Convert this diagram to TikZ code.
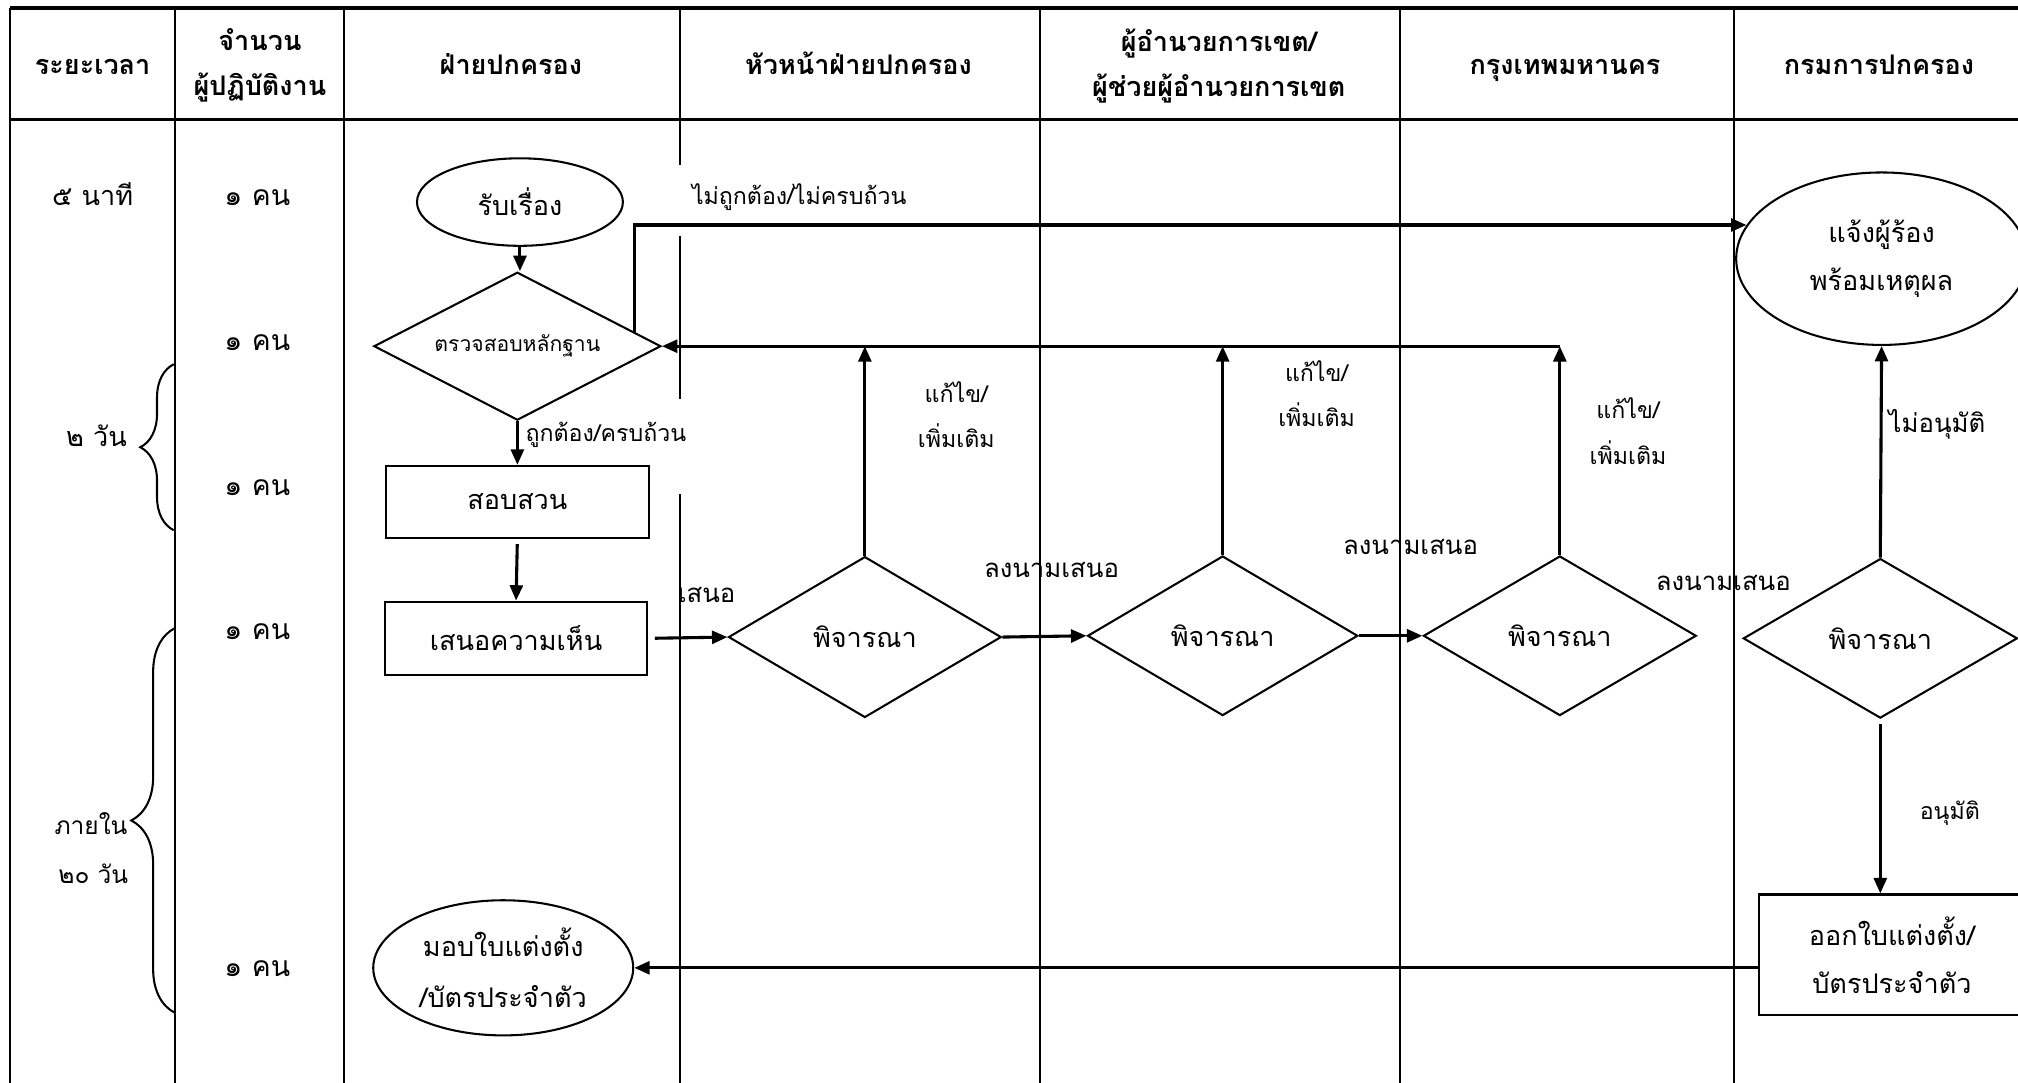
\documentclass[tikz,border=0pt]{standalone}
\usepackage{fontspec}
\newfontfamily\thai[Script=Thai]{Loma}
\usetikzlibrary{shapes.geometric,arrows.meta,decorations.pathreplacing,calc}
\tikzset{
  tline/.style={line width=0.8pt},
  shp/.style={draw, line width=0.8pt, inner sep=0pt, align=center, font=\thai\fontsize{10.5}{18.5}\selectfont},
  ell/.style={shp, ellipse},
  dia/.style={shp, diamond, aspect=2},
  box/.style={shp, rectangle},
  arr/.style={line width=1.2pt, -{Triangle[length=6pt,width=5pt]}},
  lbl/.style={font=\thai\fontsize{9}{17.5}\selectfont, inner sep=0pt, align=center},
  lblb/.style={font=\thai\fontsize{10}{17.5}\selectfont, inner sep=0pt, align=center},
  cnt/.style={font=\thai\fontsize{11}{17.5}\selectfont, inner sep=0pt, text height=8pt, text depth=3pt},
  tim/.style={font=\thai\fontsize{10.5}{17.5}\selectfont, inner sep=0pt, text height=8pt, text depth=3pt},
  hdr/.style={font=\thai\bfseries\fontsize{10.5}{17.5}\selectfont, inner sep=0pt, align=center},
  hdrone/.style={hdr, text height=8pt, text depth=3pt},
  brc/.style={line width=0.8pt, decorate},
}
\begin{document}
\begin{tikzpicture}[x=0.5pt,y=-0.5pt]
\useasboundingbox (0,0) rectangle (1568,841);
\clip (0,0) rectangle (1568,841);
% table frame
\draw[line width=1.5pt] (8,6) -- (1575,6);
\draw[line width=1.2pt] (8,93) -- (1575,93);
\draw[tline] (8,6) -- (8,845);
\foreach \x in {136,267,808,1088,1347} \draw[tline] (\x,6) -- (\x,845);
\draw[tline] (528,6) -- (528,128) (528,183) -- (528,310) (528,384) -- (528,845);
% headers
\node[hdrone] (h1) at (72,53) {ระยะเวลา};
\node[hdr] (h2) at (202,51) {จำนวน\\ผู้ปฏิบัติงาน};
\node[hdrone] (h3) at (397,53) {ฝ่ายปกครอง};
\node[hdrone] (h4) at (667,53) {หัวหน้าฝ่ายปกครอง};
\node[hdr] (h5) at (947,51) {ผู้อำนวยการเขต/\\ผู้ช่วยผู้อำนวยการเขต};
\node[hdrone] (h6) at (1216,53) {กรุงเทพมหานคร};
\node[hdrone] (h7) at (1460,53) {กรมการปกครอง};
% time column
\node[tim] (t1) at (72,155) {๕ นาที};
\node[tim] (t2) at (75,342) {๒ วัน};
\node[lbl, font=\thai\fontsize{9.5}{19}\selectfont, align=left, anchor=west] (t3) at (42,659) {ภายใน\\\hspace*{1.5pt}๒๐ วัน};
\draw[brc, decoration={brace, amplitude=13pt}] (135,412) -- (135,283);
\draw[brc, decoration={brace, amplitude=17pt}] (136,787) -- (136,488);
% staff column
\foreach \y in {153,265,378,490,752} \node[cnt] (n\y) at (200,\y+2) {๑ คน};
% shapes
\node[ell, minimum width=80pt, minimum height=34pt] (E1) at (404,157) {รับเรื่อง};
\node[dia, minimum width=111.5pt, minimum height=57.5pt, font=\thai\fontsize{8.2}{10}\selectfont] (D0) at (402,269) {ตรวจสอบหลักฐาน};
\node[box, minimum width=102pt, minimum height=28pt] (R1) at (402,390) {สอบสวน};
\node[box, minimum width=102pt, minimum height=28.5pt] (R2) at (401,496) {เสนอความเห็น};
\node[ell, minimum width=101pt, minimum height=52.5pt, font=\thai\fontsize{10.5}{19.5}\selectfont] (E2) at (391,752) {มอบใบแต่งตั้ง\\/บัตรประจำตัว};
\node[dia, minimum width=106pt, minimum height=62.5pt] (D1) at (672,495) {พิจารณา};
\node[dia, minimum width=105pt, minimum height=62pt] (D2) at (950,494) {พิจารณา};
\node[dia, minimum width=106pt, minimum height=62pt] (D3) at (1212,494) {พิจารณา};
\node[dia, minimum width=106.5pt, minimum height=62pt] (D4) at (1461,496) {พิจารณา};
\node[ell, minimum width=113pt, minimum height=67pt] (E3) at (1462,201) {แจ้งผู้ร้อง\\พร้อมเหตุผล};
\node[box, minimum width=103pt, minimum height=47pt] (R3) at (1470,742) {ออกใบแต่งตั้ง/\\บัตรประจำตัว};
% connectors
\draw[arr] (E1.south) -- (E1.south |- D0.north);
\draw[arr] (D0.south) -- (D0.south |- R1.north);
\draw[arr, shorten <=2pt] (R1.south) -- (R2.north);
\draw[arr, shorten <=2.5pt] (R2.east) -- (D1.west);
\draw[arr] (D1.east) -- (D2.west);
\draw[arr] (D2.east) -- (D3.west);
\coordinate (d0out) at ($(D0.east)!0.19!(D0.north)$);
\draw[arr] (d0out) |- (E3.166);
\coordinate (ret) at (D3.north |- D0.east);
\draw[arr] (ret) -- (D0.east);
\draw[arr] (D1.north) -- (D1.north |- D0.east);
\draw[arr] (D2.north) -- (D2.north |- D0.east);
\draw[arr] (D3.north) -- (ret);
\draw[arr] (D4.north) -- (E3.south);
\draw[arr, shorten <=2pt] (D4.south) -- (D4.south |- R3.north);
\draw[arr] (R3.west |- E2.east) -- (E2.east);
% labels
\node[lbl, anchor=west] (l2) at (408,338) {ถูกต้อง/ครบถ้วน};
\node[lbl] (l1) at (621,153) {ไม่ถูกต้อง/ไม่ครบถ้วน};
\node[lbl] (l3) at (743,322) {แก้ไข/\\เพิ่มเติม};
\node[lbl] (l4) at (1023,306) {แก้ไข/\\เพิ่มเติม};
\node[lbl] (l5) at (1265,335) {แก้ไข/\\เพิ่มเติม};
\node[lblb] (l6) at (549,462) {เสนอ};
\node[lblb] (l7) at (817,443) {ลงนามเสนอ};
\node[lblb] (l8) at (1096,425) {ลงนามเสนอ};
\node[lblb] (l9) at (1339,453) {ลงนามเสนอ};
\node[lblb] (l10) at (1505,330) {ไม่อนุมัติ};
\node[lbl] (l11) at (1515,632) {อนุมัติ};
\end{tikzpicture}
\end{document}
